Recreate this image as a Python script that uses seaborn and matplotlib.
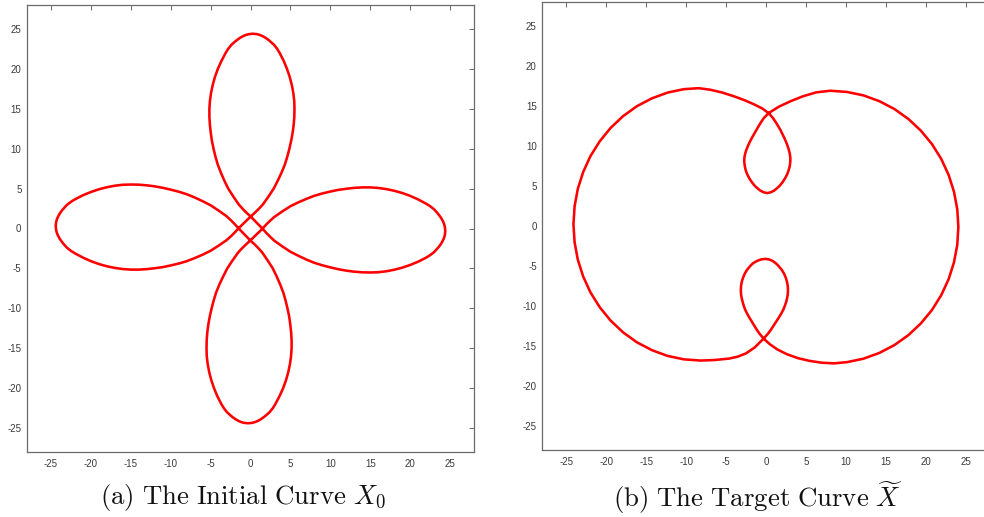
import matplotlib
matplotlib.use("Agg")
import matplotlib.pyplot as plt
import pandas as pd
import seaborn as sns

# ---------------- data ----------------
ticks = [-25, -20, -15, -10, -5, 0, 5, 10, 15, 20, 25]
tick_labels = ["-25", "-20", "-15", "-10", "-5", "0", "5", "10", "15", "20", "25"]

# (a) initial curve X0 : four petals traversed as one closed curve, (x, y) points
initial_curve = [
    (1.5, -0.02), (0.02, 1.5),
    # top petal, left edge going up
    (-0.53, 2), (-1.02, 2.5), (-1.46, 3), (-2.15, 4), (-2.79, 5), (-3.28, 6), (-3.71, 7),
    (-4.10, 8), (-4.39, 9), (-4.63, 10), (-4.84, 11), (-4.98, 12), (-5.09, 13), (-5.15, 14),
    (-5.15, 15), (-5.08, 16), (-4.94, 17), (-4.73, 18), (-4.45, 19), (-4.09, 20), (-3.64, 21),
    (-3.11, 22), (-2.80, 22.5), (-2.40, 23), (-2.07, 23.3), (-1.71, 23.6), (-1.29, 23.9),
    (-0.93, 24.1), (-0.57, 24.25), (-0.20, 24.35), (0.30, 24.4),
    # top petal, right edge going down
    (0.80, 24.35), (1.17, 24.25), (1.51, 24.1), (1.87, 23.9), (2.29, 23.6), (2.63, 23.3),
    (2.96, 23), (3.34, 22.5), (3.65, 22), (4.16, 21), (4.57, 20),
    (4.91, 19), (5.17, 18), (5.36, 17), (5.48, 16), (5.51, 15), (5.49, 14), (5.41, 13),
    (5.28, 12), (5.10, 11), (4.87, 10), (4.61, 9), (4.30, 8), (3.89, 7), (3.42, 6), (2.91, 5),
    (2.25, 4), (1.54, 3), (1.08, 2.5), (0.57, 2),
    (0.02, 1.5), (-1.5, 0.02),
    # left petal, lower edge going out
    (-2, -0.53), (-2.5, -1.02), (-3, -1.46), (-4, -2.15), (-5, -2.79), (-6, -3.28), (-7, -3.71),
    (-8, -4.10), (-9, -4.39), (-10, -4.63), (-11, -4.84), (-12, -4.98), (-13, -5.09), (-14, -5.15),
    (-15, -5.15), (-16, -5.08), (-17, -4.94), (-18, -4.73), (-19, -4.45), (-20, -4.09), (-21, -3.64),
    (-22, -3.11), (-22.5, -2.80), (-23, -2.40), (-23.3, -2.07), (-23.6, -1.71), (-23.9, -1.29),
    (-24.1, -0.93), (-24.25, -0.57), (-24.35, -0.20), (-24.4, 0.30),
    # left petal, upper edge coming back
    (-24.35, 0.80), (-24.25, 1.17), (-24.1, 1.51), (-23.9, 1.87), (-23.6, 2.29), (-23.3, 2.63),
    (-23, 2.96), (-22.5, 3.34), (-22, 3.65), (-21, 4.16), (-20, 4.57),
    (-19, 4.91), (-18, 5.17), (-17, 5.36), (-16, 5.48), (-15, 5.51), (-14, 5.49), (-13, 5.41),
    (-12, 5.28), (-11, 5.10), (-10, 4.87), (-9, 4.61), (-8, 4.30), (-7, 3.89), (-6, 3.42), (-5, 2.91),
    (-4, 2.25), (-3, 1.54), (-2.5, 1.08), (-2, 0.57),
    (-1.5, 0.02), (-0.02, -1.5),
    # bottom petal, right edge going down
    (0.53, -2), (1.02, -2.5), (1.46, -3), (2.15, -4), (2.79, -5), (3.28, -6), (3.71, -7),
    (4.10, -8), (4.39, -9), (4.63, -10), (4.84, -11), (4.98, -12), (5.09, -13), (5.15, -14),
    (5.15, -15), (5.08, -16), (4.94, -17), (4.73, -18), (4.45, -19), (4.09, -20), (3.64, -21),
    (3.11, -22), (2.80, -22.5), (2.40, -23), (2.07, -23.3), (1.71, -23.6), (1.29, -23.9),
    (0.93, -24.1), (0.57, -24.25), (0.20, -24.35), (-0.30, -24.4),
    # bottom petal, left edge going up
    (-0.80, -24.35), (-1.17, -24.25), (-1.51, -24.1), (-1.87, -23.9), (-2.29, -23.6), (-2.63, -23.3),
    (-2.96, -23), (-3.34, -22.5), (-3.65, -22), (-4.16, -21), (-4.57, -20),
    (-4.91, -19), (-5.17, -18), (-5.36, -17), (-5.48, -16), (-5.51, -15), (-5.49, -14), (-5.41, -13),
    (-5.28, -12), (-5.10, -11), (-4.87, -10), (-4.61, -9), (-4.30, -8), (-3.89, -7), (-3.42, -6),
    (-2.91, -5), (-2.25, -4), (-1.54, -3), (-1.08, -2.5), (-0.57, -2),
    (-0.02, -1.5), (1.5, -0.02),
    # right petal, upper edge going out
    (2, 0.53), (2.5, 1.02), (3, 1.46), (4, 2.15), (5, 2.79), (6, 3.28), (7, 3.71),
    (8, 4.10), (9, 4.39), (10, 4.63), (11, 4.84), (12, 4.98), (13, 5.09), (14, 5.15),
    (15, 5.15), (16, 5.08), (17, 4.94), (18, 4.73), (19, 4.45), (20, 4.09), (21, 3.64),
    (22, 3.11), (22.5, 2.80), (23, 2.40), (23.3, 2.07), (23.6, 1.71), (23.9, 1.29),
    (24.1, 0.93), (24.25, 0.57), (24.35, 0.20), (24.4, -0.30),
    # right petal, lower edge coming back
    (24.35, -0.80), (24.25, -1.17), (24.1, -1.51), (23.9, -1.87), (23.6, -2.29), (23.3, -2.63),
    (23, -2.96), (22.5, -3.34), (22, -3.65), (21, -4.16), (20, -4.57),
    (19, -4.91), (18, -5.17), (17, -5.36), (16, -5.48), (15, -5.51), (14, -5.49), (13, -5.41),
    (12, -5.28), (11, -5.10), (10, -4.87), (9, -4.61), (8, -4.30), (7, -3.89), (6, -3.42), (5, -2.91),
    (4, -2.25), (3, -1.54), (2.5, -1.08), (2, -0.57),
    (1.5, -0.02),
]

# (b) target curve X~ : two large lobes with two small inner loops, (x, y) points
target_curve = [
    (0.33, 14.1),
    # upper small loop, left side down
    (-0.26, 13.5), (-0.60, 13), (-0.91, 12.5), (-1.20, 12), (-1.49, 11.5), (-1.77, 11), (-2.03, 10.5),
    (-2.26, 10), (-2.46, 9.5), (-2.62, 9), (-2.71, 8.5), (-2.72, 8), (-2.66, 7.5), (-2.55, 7),
    (-2.37, 6.5), (-2.12, 6), (-1.80, 5.5), (-1.40, 5), (-1.07, 4.7), (-0.70, 4.4), (-0.30, 4.2),
    (0.15, 4.1),
    # upper small loop, right side up
    (0.60, 4.2), (1.00, 4.4), (1.37, 4.7), (1.70, 5), (2.10, 5.5), (2.42, 6), (2.67, 6.5),
    (2.85, 7), (2.98, 7.5), (3.04, 8), (3.05, 8.5), (2.98, 9), (2.86, 9.5), (2.70, 10),
    (2.51, 10.5), (2.29, 11), (2.05, 11.5), (1.80, 12), (1.51, 12.5), (1.20, 13), (0.86, 13.5),
    (0.33, 14.1),
    # left lobe
    (-0.5, 14.7), (-1.5, 15.2), (-2.7, 15.72), (-4.05, 16.22), (-5.5, 16.68), (-7.0, 17.03),
    (-8.4, 17.22), (-10.27, 17.1), (-12.32, 16.67), (-14.28, 15.95), (-16.15, 14.97), (-17.88, 13.73),
    (-19.44, 12.26), (-20.81, 10.58), (-21.97, 8.73), (-22.89, 6.72), (-23.56, 4.61), (-23.96, 2.43),
    (-24.1, 0.2), (-23.96, -2.03), (-23.56, -4.21), (-22.89, -6.32), (-21.97, -8.33), (-20.81, -10.18),
    (-19.44, -11.86), (-17.88, -13.33), (-16.15, -14.57), (-14.28, -15.55), (-12.32, -16.27),
    (-10.27, -16.7), (-8.2, -16.85), (-6.4, -16.78), (-4.6, -16.6), (-3.5, -16.35), (-2.5, -15.95),
    (-1.4, -15.2), (-0.3, -14.1),
    # lower small loop, right side up
    (0.24, -13.5), (0.61, -13), (0.94, -12.5), (1.27, -12), (1.59, -11.5), (1.89, -11), (2.16, -10.5),
    (2.36, -10), (2.53, -9.5), (2.65, -9), (2.73, -8.5), (2.75, -8), (2.72, -7.5), (2.63, -7),
    (2.48, -6.5), (2.27, -6), (1.97, -5.5), (1.55, -5), (1.25, -4.7), (0.85, -4.4), (0.38, -4.2),
    (-0.09, -4.13),
    # lower small loop, left side down
    (-0.62, -4.2), (-1.15, -4.4), (-1.65, -4.7), (-1.95, -5), (-2.37, -5.5), (-2.67, -6), (-2.88, -6.5),
    (-3.03, -7), (-3.12, -7.5), (-3.15, -8), (-3.13, -8.5), (-3.05, -9), (-2.93, -9.5), (-2.78, -10),
    (-2.60, -10.5), (-2.35, -11), (-2.07, -11.5), (-1.77, -12), (-1.46, -12.5), (-1.15, -13),
    (-0.80, -13.5), (-0.3, -14.1),
    # right lobe
    (0.45, -14.78), (1.4, -15.45), (2.6, -16.05), (4.0, -16.55), (5.5, -16.9), (7.0, -17.12),
    (8.5, -17.2), (10.13, -17.05), (12.19, -16.62), (14.18, -15.9), (16.06, -14.92), (17.81, -13.68),
    (19.38, -12.21), (20.77, -10.53), (21.93, -8.68), (22.86, -6.67), (23.53, -4.56), (23.94, -2.38),
    (24.08, -0.15), (23.94, 2.08), (23.53, 4.26), (22.86, 6.37), (21.93, 8.38), (20.77, 10.23),
    (19.38, 11.91), (17.81, 13.38), (16.06, 14.62), (14.18, 15.6), (12.19, 16.32), (10.13, 16.75),
    (8.04, 16.9), (6.3, 16.7), (4.6, 16.2), (3.1, 15.6), (1.6, 14.9), (0.33, 14.1),
]

captions = [r"$\mathrm{(a)\ The\ Initial\ Curve}\ X_0$",
            r"$\mathrm{(b)\ The\ Target\ Curve}\ \widetilde{X}$"]

# ---------------- style ----------------
sns.set_theme(style="white")
plt.rcParams["font.family"] = ["Liberation Sans", "DejaVu Sans"]
plt.rcParams["mathtext.fontset"] = "cm"

W, H = 984, 517
fig = plt.figure(figsize=(W / 100, H / 100), dpi=100)

ax1 = fig.add_axes([27 / W, 1 - 452 / H, 447 / W, 447 / H])
ax2 = fig.add_axes([542.3 / W, 1 - 449.7 / H, 447.4 / W, 447.7 / H])

axis_grey = "#6a6a6a"
for ax, pts in [(ax1, initial_curve), (ax2, target_curve)]:
    df = pd.DataFrame(pts, columns=["x", "y"])
    sns.lineplot(data=df, x="x", y="y", sort=False, estimator=None,
                 color="#ff0000", linewidth=1.85, ax=ax)
    ax.set_xlim(-28, 28)
    ax.set_ylim(-28, 28)
    ax.set_xticks(ticks)
    ax.set_xticklabels(tick_labels)
    ax.set_yticks(ticks)
    ax.set_yticklabels(tick_labels)
    ax.set_xlabel("")
    ax.set_ylabel("")
    ax.tick_params(direction="in", length=3.8, width=0.7, top=True, right=True,
                   labelsize=7, color=axis_grey, labelcolor="#3a3a3a")
    ax.tick_params(axis="x", pad=5)
    ax.tick_params(axis="y", pad=4)
    for sp in ax.spines.values():
        sp.set_color(axis_grey)
        sp.set_linewidth(0.9)

fig.text(242.5 / W, 1 - 504 / H, captions[0], ha="center", va="baseline", fontsize=19.3, color="#111111")
fig.text(757.5 / W, 1 - 507 / H, captions[1], ha="center", va="baseline", fontsize=19.3, color="#111111")

fig.savefig("out.png", dpi=100)
